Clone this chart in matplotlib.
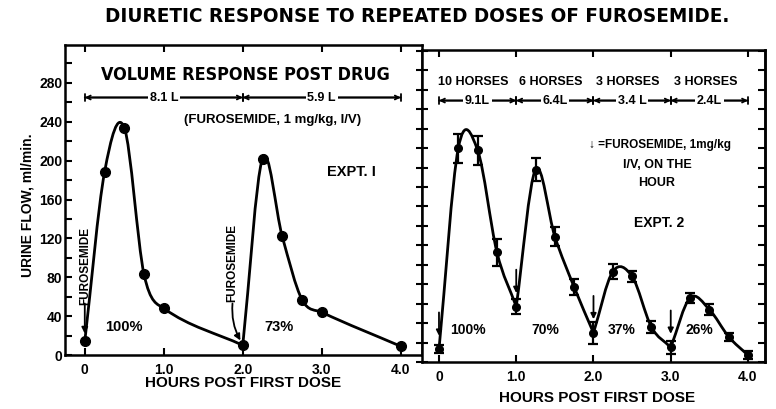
import numpy as np
import matplotlib
matplotlib.use('Agg')
import matplotlib.pyplot as plt
from matplotlib.path import Path
from matplotlib.patches import PathPatch
from matplotlib.ticker import MultipleLocator

NARROW = ['Liberation Sans', 'DejaVu Sans']
COND = ['DejaVu Sans']
WIDE = ['Liberation Sans', 'DejaVu Sans']

# Expt 1 - single horse, doses at 0 and 2 h
exp1_hours = [0.0, 0.25, 0.5, 0.75, 1.0, 2.0, 2.25, 2.5, 2.75, 3.0, 4.0]
exp1_flow = [14, 188, 234, 83, 48, 10, 202, 122, 57, 44, 9]
exp1_doses = [0.0, 2.0]
exp1_volumes = ['8.1 L', '5.9 L']
exp1_percent = ['100%', '73%']

# Expt 2 - mean +/- error, doses on the hour
exp2_hours = [0.0, 0.25, 0.5, 0.75, 1.0, 1.25, 1.5, 1.75, 2.0,
              2.25, 2.5, 2.75, 3.0, 3.25, 3.5, 3.75, 4.0]
exp2_flow = [13, 220, 218, 113, 57, 198, 129, 77, 30,
             93, 88, 36, 15, 66, 54, 26, 7]
exp2_err = [4, 15, 15, 14, 8, 12, 10, 8, 11,
            8, 6, 6, 7, 5, 6, 4, 4]
exp2_doses = [0.0, 1.0, 2.0, 3.0]
exp2_volumes = ['9.1L', '6.4L', '3.4 L', '2.4L']
exp2_horses = ['10 HORSES', '6 HORSES', '3 HORSES', '3 HORSES']
exp2_percent = ['100%', '70%', '37%', '26%']

x_ticks = [0, 1, 2, 3, 4]
x_ticklabels = ['0', '1.0', '2.0', '3.0', '4.0']
y_ticks = [0, 40, 80, 120, 160, 200, 240, 280]


def smooth_curve(ax, xs, ys, breaks):
    # hand-drawn look: cubic pieces through the points, corners at the doses
    xs = np.asarray(xs, float)
    ys = np.asarray(ys, float)
    cut = [0] + [i for i, x in enumerate(xs) if x in breaks and 0 < i < len(xs) - 1] + [len(xs) - 1]
    verts = [(xs[0], ys[0])]
    codes = [Path.MOVETO]
    for a, b in zip(cut[:-1], cut[1:]):
        m = []
        for k in range(a, b + 1):
            if k == a:
                m.append((ys[k + 1] - ys[k]) / (xs[k + 1] - xs[k]))
            elif k == b:
                m.append((ys[k] - ys[k - 1]) / (xs[k] - xs[k - 1]))
            else:
                m.append((ys[k + 1] - ys[k - 1]) / (xs[k + 1] - xs[k - 1]))
        for j, k in enumerate(range(a, b)):
            h = xs[k + 1] - xs[k]
            verts += [(xs[k] + h / 3, ys[k] + m[j] * h / 3),
                      (xs[k + 1] - h / 3, ys[k + 1] - m[j + 1] * h / 3),
                      (xs[k + 1], ys[k + 1])]
            codes += [Path.CURVE4] * 3
    ax.add_patch(PathPatch(Path(verts, codes), fill=False, lw=2.0, color='black',
                           capstyle='round', joinstyle='round', zorder=3))


def dim_line(ax, x0, x1, y, label):
    ax.annotate('', xy=(x0, y), xytext=(x1, y),
                arrowprops=dict(arrowstyle='<->', lw=1.3, color='black',
                                shrinkA=0, shrinkB=0, mutation_scale=7))
    ax.annotate('', xy=(x0, y), xytext=(x1, y),
                arrowprops=dict(arrowstyle='|-|,widthA=0.25,widthB=0.25', lw=1.3,
                                color='black', shrinkA=0, shrinkB=0))
    ax.text((x0 + x1) / 2, y, label, ha='center', va='center', fontsize=9,
            fontweight='bold', family=NARROW,
            bbox=dict(fc='white', ec='none', pad=1.2))


def style_axes(ax, ylim, xlim):
    ax.set_xlim(*xlim)
    ax.set_ylim(*ylim)
    ax.set_xticks(x_ticks)
    ax.set_xticklabels(x_ticklabels)
    ax.set_yticks(y_ticks)
    ax.yaxis.set_minor_locator(MultipleLocator(20))
    for s in ax.spines.values():
        s.set_linewidth(1.8)
    ax.tick_params(axis='x', direction='in', top=True, length=5, width=1.5,
                   pad=6, labelsize=10)
    ax.tick_params(axis='y', which='both', direction='in', length=5, width=1.5,
                   labelsize=10, pad=2)
    for lab in ax.get_xticklabels() + ax.get_yticklabels():
        lab.set_fontweight('bold')
        lab.set_family(NARROW)


def fit_width(fig, t, target_px):
    fig.canvas.draw()
    w = t.get_window_extent(fig.canvas.get_renderer()).width
    t.set_fontsize(t.get_fontsize() * target_px / w)


fig = plt.figure(figsize=(7.76, 4.09), dpi=100)
ax1 = fig.add_axes([0.0838, 0.1320, 0.4601, 0.7579])
ax2 = fig.add_axes([0.5438, 0.1149, 0.4420, 0.7628])

# ---- Expt 1
style_axes(ax1, (0, 319), (-0.25, 4.27))
ax1.tick_params(axis='y', which='both', right=False)
smooth_curve(ax1, exp1_hours, exp1_flow, exp1_doses)
ax1.plot(exp1_hours, exp1_flow, 'o', color='black', ms=7, zorder=4)

vol_title = ax1.text(2.03, 288, 'VOLUME RESPONSE POST DRUG', ha='center', va='center',
                     fontsize=15, fontweight='bold', family=COND, fontstretch='condensed')
for i, d in enumerate(exp1_doses):
    dim_line(ax1, d, d + 2, 265, exp1_volumes[i])
ax1.text(2.38, 242, '(FUROSEMIDE, 1 mg/kg, I/V)', ha='center', va='center',
         fontsize=9.5, fontweight='bold', family=NARROW)
ax1.text(3.38, 188, 'EXPT. I', ha='center', va='center',
         fontsize=10.5, fontweight='bold', family=NARROW)
for d, p in zip(exp1_doses, exp1_percent):
    ax1.text(d + 0.5 - 0.04 * (d > 0), 29, p, ha='center', va='center',
             fontsize=10.5, fontweight='bold', family=NARROW)

ax1.text(0.0, 92, 'FUROSEMIDE', rotation=90, ha='center', va='center',
         fontsize=8.5, fontweight='bold', family=NARROW)
ax1.annotate('', xy=(0.0, exp1_flow[0] + 8), xytext=(0.0, 53),
             arrowprops=dict(arrowstyle='-|>', lw=1.3, color='black',
                             shrinkA=0, shrinkB=0, mutation_scale=9))
ax1.text(1.87, 95, 'FUROSEMIDE', rotation=90, ha='center', va='center',
         fontsize=8.5, fontweight='bold', family=NARROW)
ax1.annotate('', xy=(1.97, exp1_flow[5] + 5), xytext=(1.87, 53),
             arrowprops=dict(arrowstyle='-|>', lw=1.3, color='black',
                             shrinkA=0, shrinkB=0, mutation_scale=9,
                             connectionstyle='arc3,rad=0.15'))

# ---- Expt 2
style_axes(ax2, (0, 321), (-0.22, 4.22))
ax2.tick_params(axis='y', which='both', direction='inout', length=9,
                right=False, labelleft=False)
sec = ax2.secondary_yaxis('right')
sec.set_yticks(y_ticks)
sec.yaxis.set_minor_locator(MultipleLocator(20))
sec.tick_params(axis='y', which='both', direction='in', length=5, width=1.5,
                labelright=False)
sec.spines['right'].set_linewidth(1.8)

smooth_curve(ax2, exp2_hours, exp2_flow, exp2_doses)
ax2.errorbar(exp2_hours, exp2_flow, yerr=exp2_err, fmt='o', color='black',
             ms=5.5, elinewidth=1.6, capsize=3.5, capthick=1.6, zorder=4)

for i, d in enumerate(exp2_doses):
    ax2.text(d + 0.45, 288, exp2_horses[i], ha='center', va='center',
             fontsize=9, fontweight='bold', family=NARROW)
    dim_line(ax2, d, d + 1, 269, exp2_volumes[i])
    ax2.text(d + 0.37, 33, exp2_percent[i], ha='center', va='center',
             fontsize=10, fontweight='bold', family=NARROW)
    fi = exp2_hours.index(d)
    ax2.annotate('', xy=(d, exp2_flow[fi] + 14), xytext=(d, exp2_flow[fi] + 38),
                 arrowprops=dict(arrowstyle='-|>', lw=1.3, color='black',
                                 shrinkA=0, shrinkB=0, mutation_scale=8))

ax2.text(2.86, 223, '\u2193 =FUROSEMIDE, 1mg/kg', ha='center', va='center',
         fontsize=8.5, fontweight='bold', family=NARROW)
ax2.text(2.83, 203, 'I/V, ON THE', ha='center', va='center',
         fontsize=9, fontweight='bold', family=NARROW)
ax2.text(2.82, 184, 'HOUR', ha='center', va='center',
         fontsize=9, fontweight='bold', family=NARROW)
ax2.text(2.85, 143, 'EXPT. 2', ha='center', va='center',
         fontsize=10, fontweight='bold', family=NARROW)

# ---- figure texts
title = fig.text(417 / 776, 1 - 17 / 409, 'DIURETIC RESPONSE TO REPEATED DOSES OF FUROSEMIDE.',
                 ha='center', va='center', fontsize=18, fontweight='bold',
                 family=COND, fontstretch='condensed')
fig.text(27 / 776, 1 - 205 / 409, 'URINE FLOW, ml/min.', rotation=90,
         ha='center', va='center', fontsize=10, fontweight='bold', family=WIDE)
fig.text(243 / 776, 1 - 383 / 409, 'HOURS POST FIRST DOSE', ha='center', va='center',
         fontsize=11, fontweight='bold', family=WIDE)
fig.text(597 / 776, 1 - 398 / 409, 'HOURS POST FIRST DOSE', ha='center', va='center',
         fontsize=11, fontweight='bold', family=WIDE)

fit_width(fig, title, 621)
fit_width(fig, vol_title, 290)

fig.savefig('out.png', dpi=100, facecolor='white')
